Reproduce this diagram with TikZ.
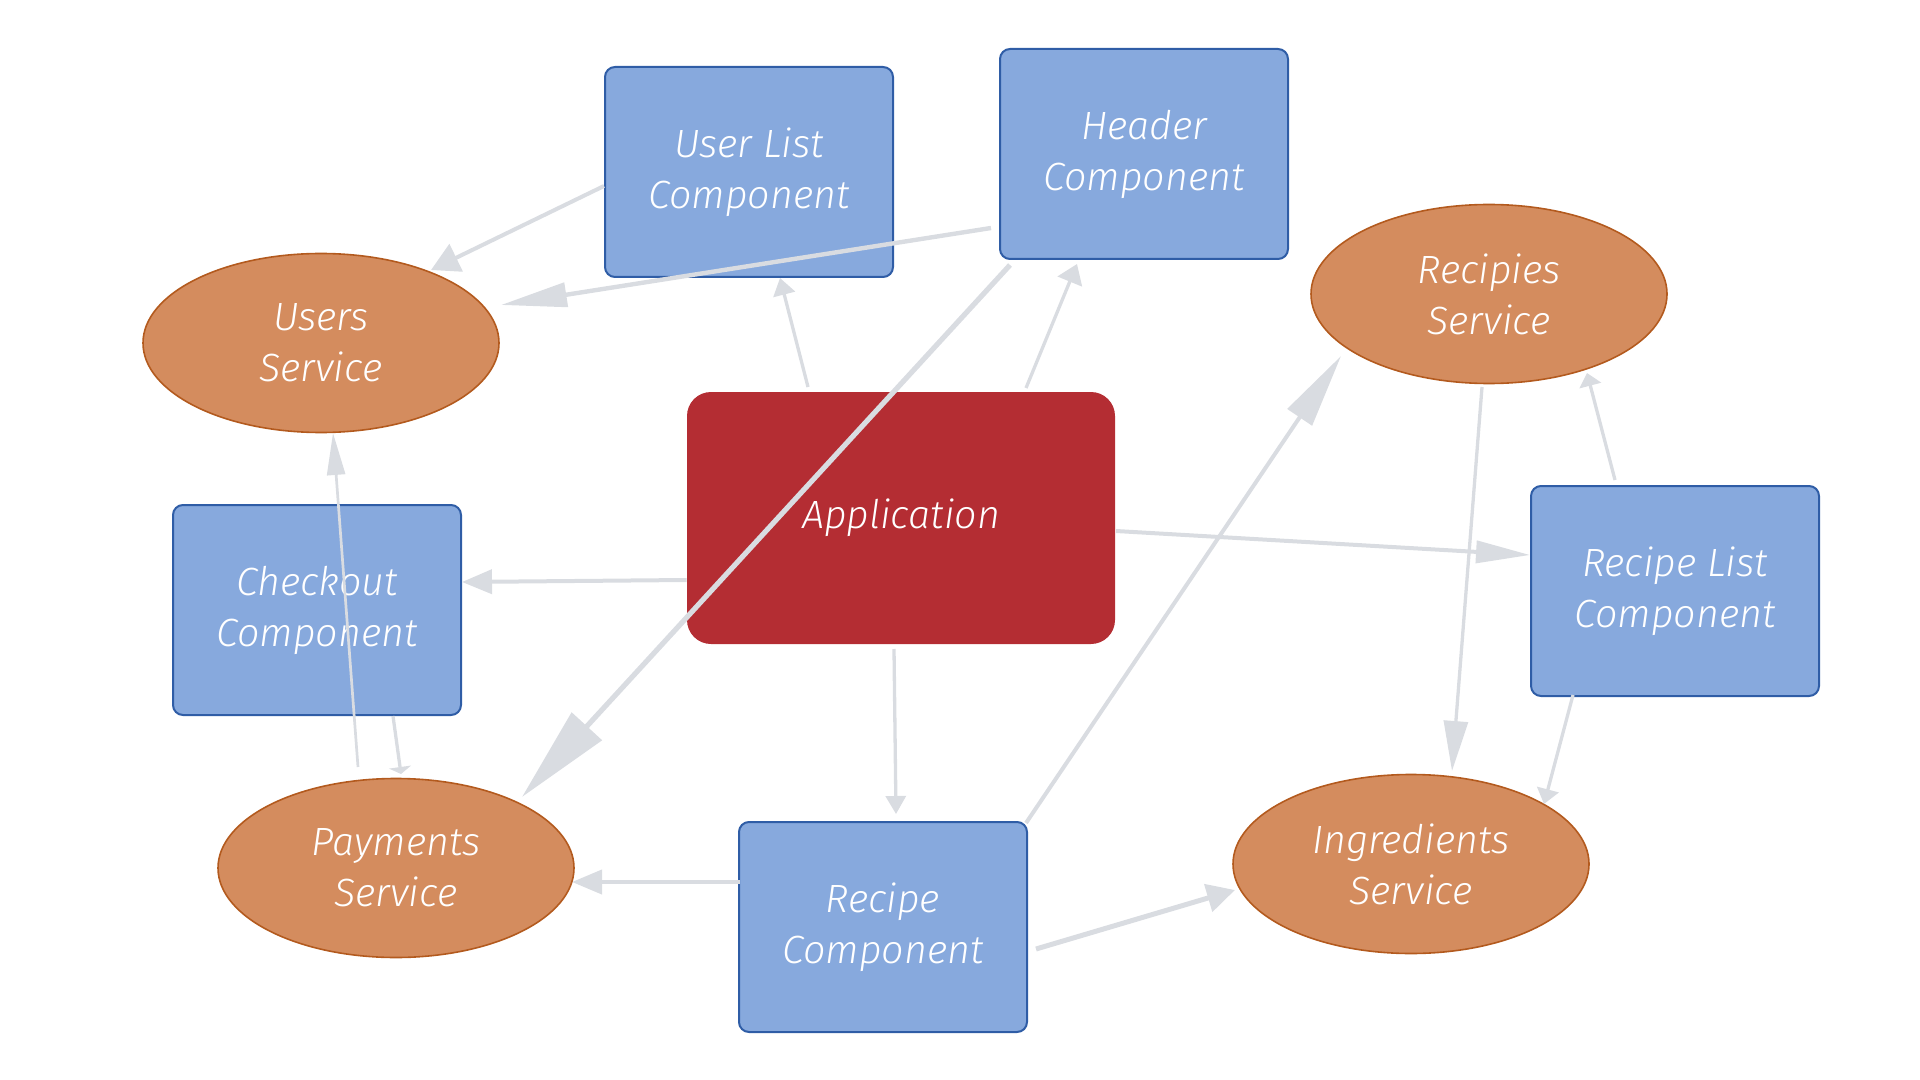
\documentclass[tikz,border=0pt]{standalone}
\usepackage{fontspec}
\setmainfont{Fira Sans}[UprightFont=* Light, ItalicFont=* Light Italic]
\usetikzlibrary{arrows.meta,calc,shapes.geometric}
\definecolor{boxblue}{HTML}{87A9DD}
\definecolor{boxline}{HTML}{2F5DA6}
\definecolor{svcfill}{HTML}{D48C5E}
\definecolor{svcline}{HTML}{B35A1E}
\definecolor{appred}{HTML}{B42D33}
\definecolor{edgegray}{HTML}{D9DCE1}

\begin{document}
\begin{tikzpicture}[x=0.5pt, y=-0.5pt,
 font=\fontsize{19.7}{25.5}\selectfont\itshape,
 comp/.style={draw=boxline, line width=1pt, fill=boxblue, rounded corners=5pt, text=white, align=center, minimum width=144pt, minimum height=105pt, inner sep=0pt},
 svc/.style={ellipse, draw=svcline, line width=0.8pt, fill=svcfill, text=white, align=center, minimum width=178pt, minimum height=89.5pt, inner sep=0pt},
 core/.style={fill=appred, rounded corners=12pt, text=white, minimum width=214pt, minimum height=126pt, inner sep=0pt},
 link/.style={draw=edgegray, line width=#1}, link/.default=2pt,
 ahead/.style 2 args={-{Triangle[length=#1,width=#2]}}]
\useasboundingbox (0,0) rectangle (1920,1080);

% components, services and the application
\node[comp] (ul) at (749,172) {User List\\Component};
\node[comp] (hd) at (1144,154) {Header\\Component};
\node[comp] (co) at (317,610) {Checkout\\Component};
\node[comp] (rl) at (1675,591) {Recipe List\\Component};
\node[comp] (rc) at (883,927) {Recipe\\Component};
\node[svc] (us) at (321,343) {Users\\Service};
\node[svc] (rs) at (1489,294) {Recipies\\Service};
\node[svc] (ps) at (396,868) {Payments\\Service};
\node[svc] (is) at (1411,864) {Ingredients\\Service};
\node[core] (app) at (901,518) {Application};

% dependencies
\draw[link=2pt, ahead={14pt}{15pt}] ($(ul.west)+(0,14)$) -- ($(us)+(110,-73)$);
\draw[link=2.2pt, ahead={33pt}{12pt}] ($(hd.west)+(-8,74)$) -- ($(us)+(180,-38)$);
\draw[link=2.6pt, ahead={48pt}{20pt}] ($(hd)+(-134,111)$) -- ($(ps)+(126,-71)$);
\draw[link=1.65pt, ahead={8.5pt}{11pt}] ($(app)+(-93,-131)$) -- ($(ul)+(31,106)$);
\draw[link=1.65pt, ahead={9.5pt}{13pt}] ($(app)+(125,-130)$) -- ($(hd)+(-67,110)$);
\draw[link=2pt, ahead={15pt}{12pt}] ($(app.west)+(0,62)$) -- ($(co)+(145,-28)$);
\draw[link=2pt, ahead={27pt}{11pt}] ($(app)+(215,13)$) -- ($(rl)+(-145,-36)$);
\draw[link=1.65pt, ahead={9pt}{10pt}] ($(app)+(-7,131)$) -- ($(rc)+(13,-113)$);
\draw[link=2pt, ahead={37pt}{14.5pt}] ($(rc)+(143,-104)$) -- ($(rs)+(-148,62)$);
\draw[link=2pt, ahead={15pt}{12pt}] ($(rc)+(-143,-45)$) -- ($(ps)+(176,14)$);
\draw[link=2.5pt, ahead={14pt}{14pt}] ($(rc)+(153,22)$) -- ($(is)+(-176,26)$);
\draw[link=1.65pt, ahead={25pt}{12pt}] ($(rs)+(-7,93)$) -- ($(is)+(41,-93)$);
\draw[link=1.65pt, ahead={6.5pt}{11pt}] ($(rl)+(-60,-111)$) -- ($(rs)+(98,79)$);
\draw[link=1.65pt, ahead={7.5pt}{11pt}] ($(rl)+(-102,104)$) -- ($(is)+(133,-60)$);
\draw[link=1.35pt, ahead={21pt}{9pt}] ($(ps)+(-38,-101)$) -- ($(us)+(12,90)$);
\draw[link=1.65pt, ahead={3.5pt}{11pt}] ($(co)+(76,106)$) -- ($(ps)+(5,-94)$);
\end{tikzpicture}
\end{document}
